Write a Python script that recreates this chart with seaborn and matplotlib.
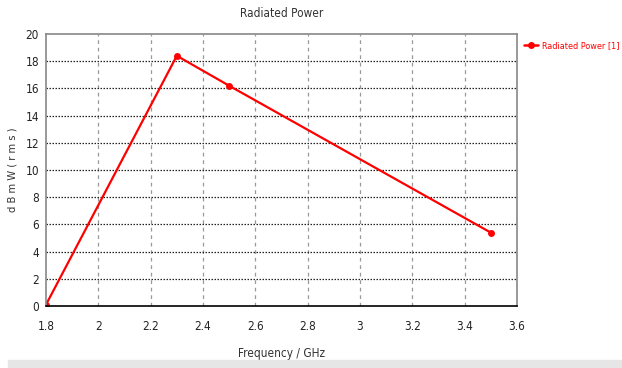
import matplotlib
matplotlib.use("Agg")
import matplotlib.pyplot as plt
import seaborn as sns
import pandas as pd
from matplotlib.lines import Line2D
from matplotlib.patches import Rectangle

# Radiated power versus frequency
freq_ghz = [1.8, 2.3, 2.5, 3.5]
power_dbmw = [0.1, 18.4, 16.2, 5.4]
x_ticks = [1.8, 2.0, 2.2, 2.4, 2.6, 2.8, 3.0, 3.2, 3.4, 3.6]
x_tick_labels = ["1.8", "2", "2.2", "2.4", "2.6", "2.8", "3", "3.2", "3.4", "3.6"]
y_ticks = [0, 2, 4, 6, 8, 10, 12, 14, 16, 18, 20]
series_name = "Radiated Power [1]"

df = pd.DataFrame({"Frequency": freq_ghz, "Power": power_dbmw})

sns.set_style("white")
plt.rcParams["font.family"] = ["DejaVu Sans"]
plt.rcParams["font.stretch"] = "condensed"

fig = plt.figure(figsize=(6.22, 3.68), dpi=100)
ax = fig.add_axes([0.074, 0.1685, 0.757, 0.739])

sns.lineplot(data=df, x="Frequency", y="Power", ax=ax, color="#ff0000",
             linewidth=1.6, marker="o", markersize=5, markeredgewidth=0,
             legend=False)

ax.set_xlim(1.8, 3.6)
ax.set_ylim(0, 20)
ax.set_xticks(x_ticks)
ax.set_xticklabels(x_tick_labels)
ax.set_yticks(y_ticks)
ax.tick_params(axis="both", labelsize=8.5, colors="#222222", length=3,
               width=0.8, direction="out")
ax.tick_params(axis="x", pad=7)
ax.tick_params(axis="y", pad=2)

# grid: gray dashed verticals, black dotted horizontals
for xv in x_ticks[1:-1]:
    ax.axvline(xv, color="#999999", linestyle=(0, (3, 3)), linewidth=0.9, zorder=0)
for yv in y_ticks[1:-1]:
    ax.axhline(yv, color="#222222", linestyle=(0, (1.2, 1.2)), linewidth=0.9, zorder=0)

for side in ("top", "right", "left"):
    ax.spines[side].set_color("#888888")
    ax.spines[side].set_linewidth(1.2)
ax.spines["bottom"].set_color("#000000")
ax.spines["bottom"].set_linewidth(1.2)

ax.set_title("Radiated Power", fontsize=8.5, color="#333333", pad=12)
ax.set_xlabel("Frequency / GHz", fontsize=8.5, color="#333333", labelpad=10)
ax.set_ylabel("d B m W ( r m s )", fontsize=8, color="#333333", labelpad=6)

handle = Line2D([], [], color="#ff0000", linewidth=1.8, marker="o",
                markersize=5, markeredgewidth=0)
leg = ax.legend([handle], [series_name], loc="upper left",
                bbox_to_anchor=(1.0, 1.0), frameon=False, fontsize=6.5,
                handlelength=1.5, handletextpad=0.5, borderaxespad=0.1,
                borderpad=0.7)
for t in leg.get_texts():
    t.set_color("#ff0000")

# thin scroll strip along the bottom edge
fig.patches.append(Rectangle((0.013, 0.0), 0.987, 0.022,
                             transform=fig.transFigure, color="#e6e6e6",
                             zorder=0))

fig.savefig("out.png", dpi=100)
